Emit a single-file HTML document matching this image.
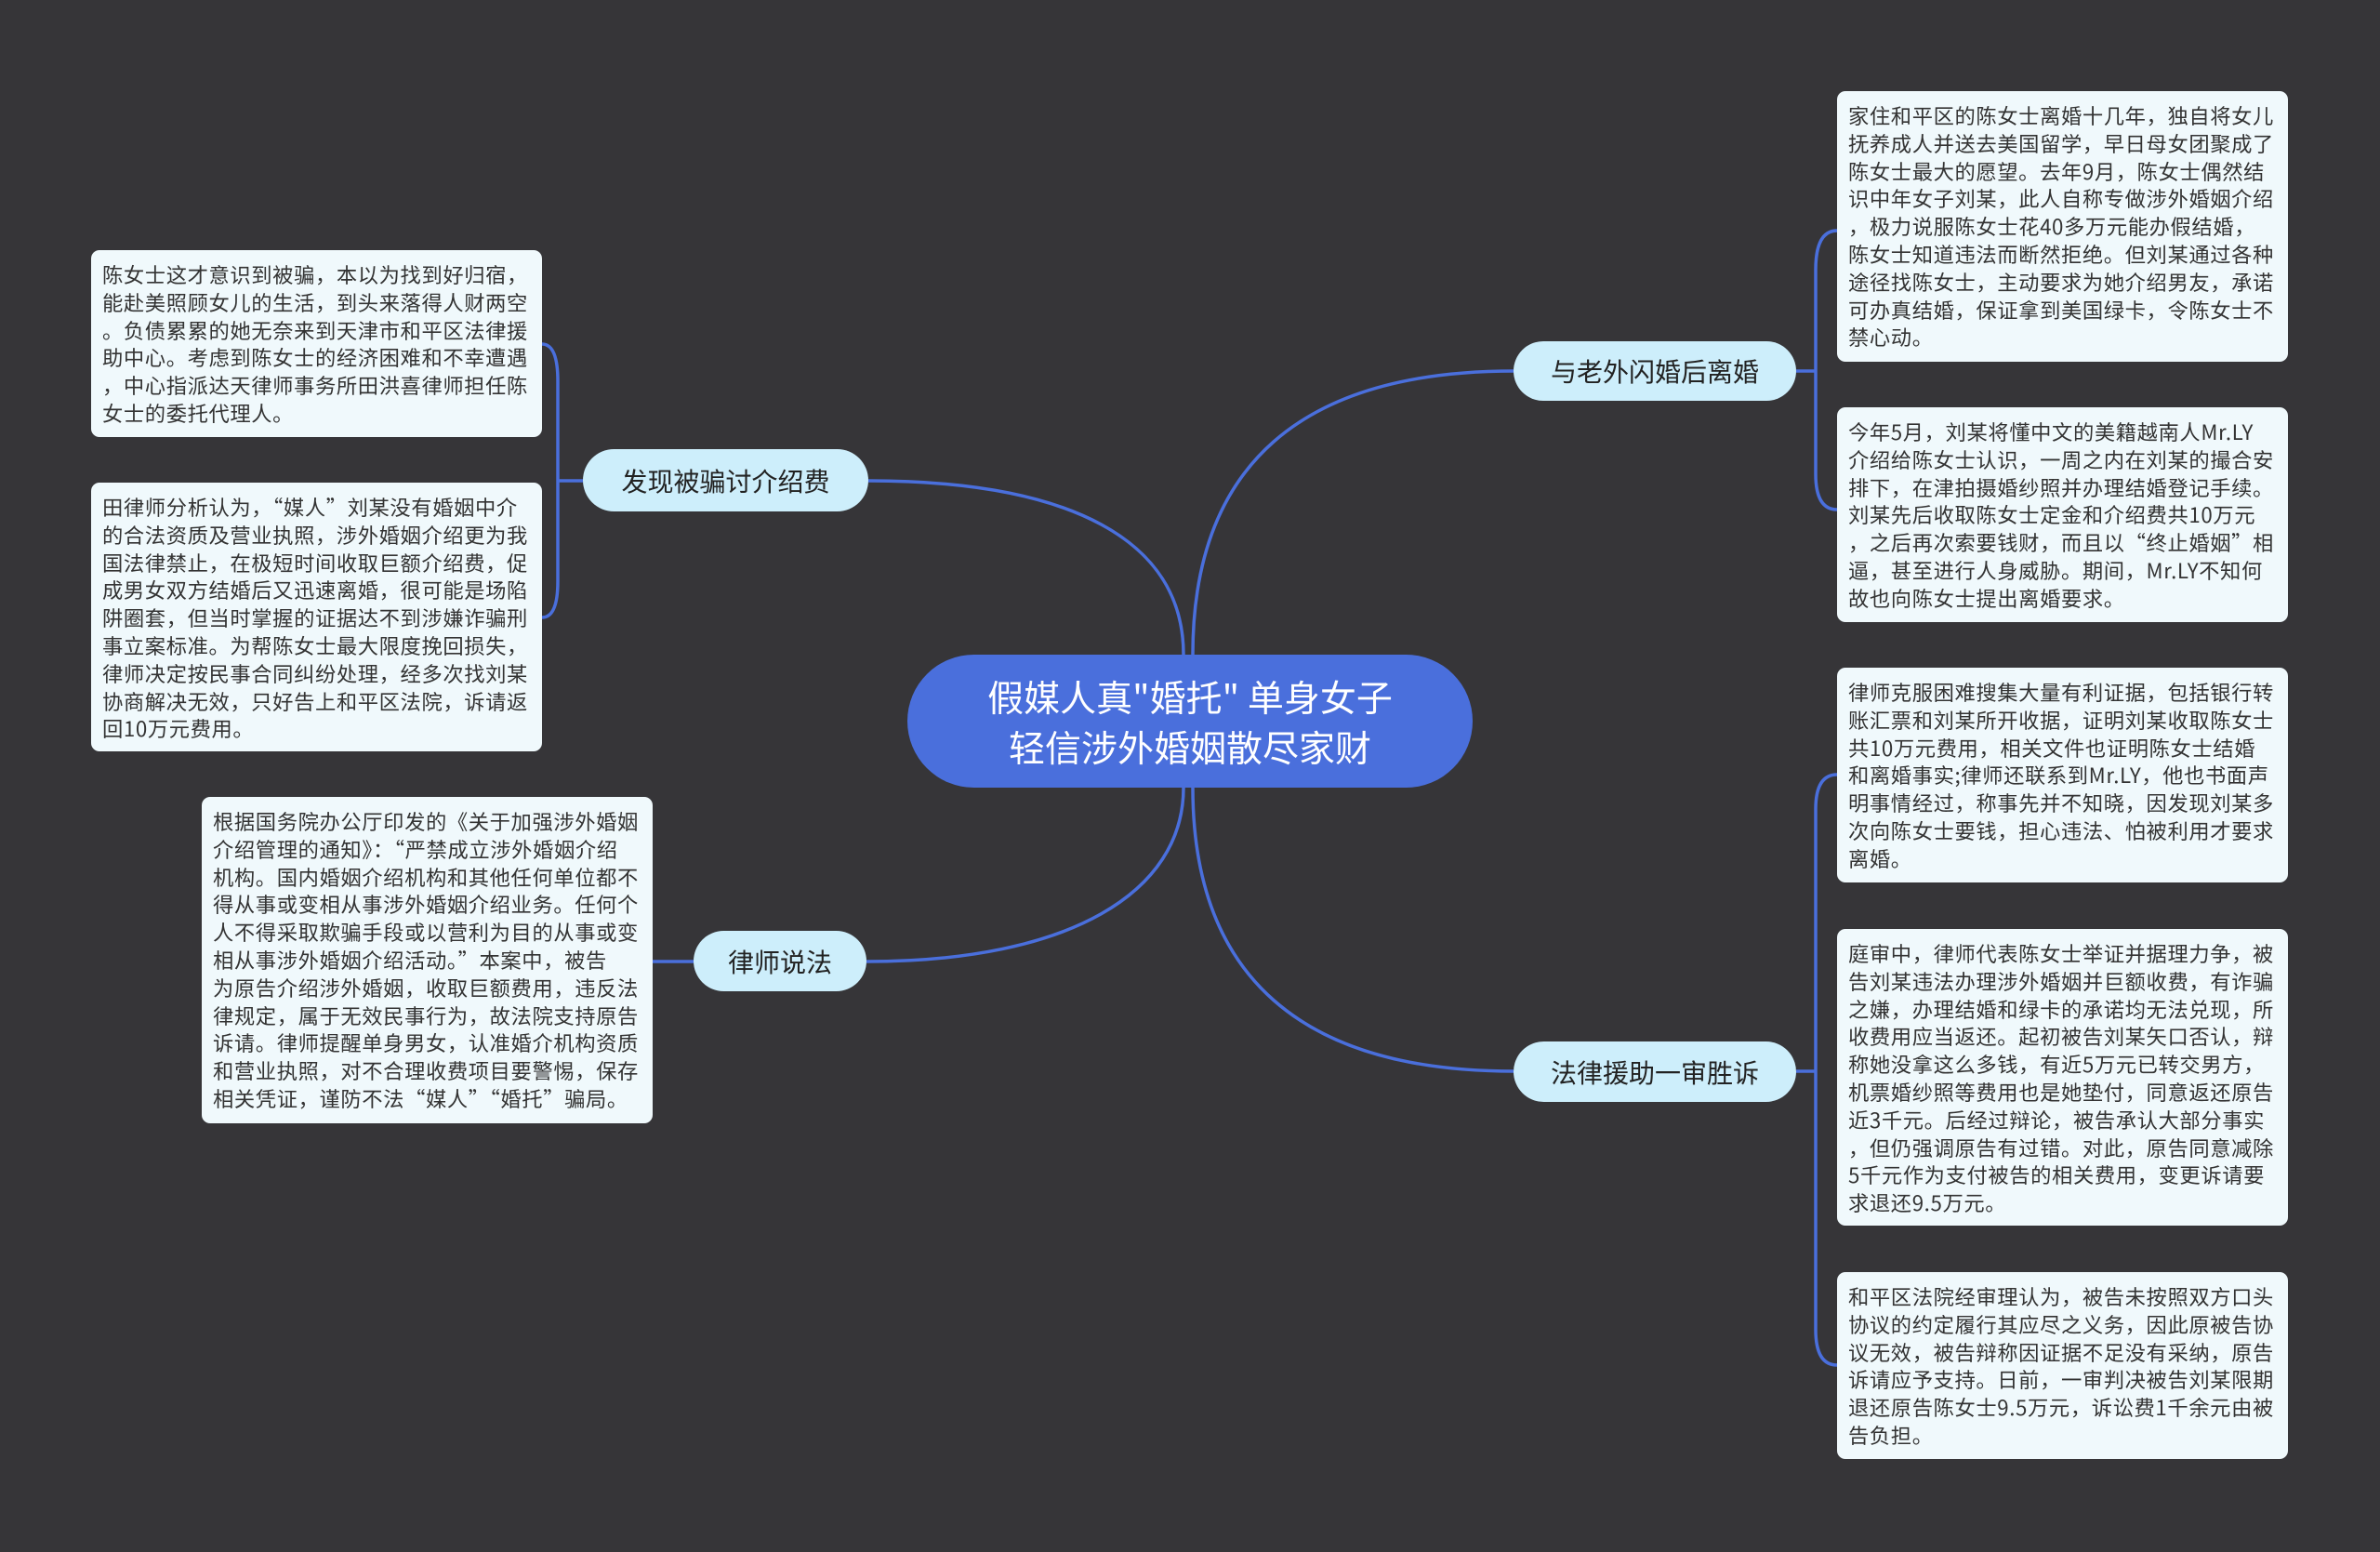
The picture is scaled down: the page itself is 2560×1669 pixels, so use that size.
<!DOCTYPE html>
<html><head><meta charset="utf-8"><style>
body{margin:0;width:2560px;height:1669px;background:#363538;position:relative;overflow:hidden;font-family:"Noto Sans CJK SC","Liberation Sans",sans-serif;}
.t{position:absolute;background:#f0f9fc;border-radius:9px;color:#333;font-size:22.3px;line-height:29.8px;padding:12px 0 0 12px;box-sizing:border-box;white-space:nowrap;letter-spacing:0.6px}
.n{position:absolute;background:#cdeefb;border-radius:40px;color:#222;font-size:28px;display:flex;align-items:center;justify-content:center;white-space:nowrap}
.c{position:absolute;left:976px;top:704px;width:608px;height:143px;background:#4a6fdc;border-radius:72px;color:#fff;font-size:39px;line-height:54px;text-align:center;display:flex;align-items:center;justify-content:center;white-space:nowrap}
</style></head><body>
<svg width="2560" height="1669" style="position:absolute;left:0;top:0" fill="none" stroke="#4a6fdc" stroke-width="3.5">
<path d="M1283 704 C1283 500 1400 399 1628 399"/>
<path d="M1273 704 C1273 580 1150 517 934 517"/>
<path d="M1273 847 C1273 960 1150 1034 932 1034"/>
<path d="M1283 847 C1283 1050 1400 1152 1628 1152"/>
<path d="M1932 399 H1953 M1976 248 Q1953 248 1953 290 V510 Q1953 548 1976 548"/>
<path d="M627 517 H600 M583 370 Q600 370 600 410 V625 Q600 664 583 664"/>
<path d="M746 1034 H702"/>
<path d="M1932 1152 H1953 M1976 833 Q1953 833 1953 870 V1430 Q1953 1468 1976 1468"/>
</svg>
<div class="c">假媒人真"婚托" 单身女子<br>轻信涉外婚姻散尽家财</div>
<div class="n" style="left:1628px;top:367px;width:304px;height:64px">与老外闪婚后离婚</div>
<div class="n" style="left:1628px;top:1120px;width:304px;height:65px">法律援助一审胜诉</div>
<div class="n" style="left:627px;top:483px;width:307px;height:67px">发现被骗讨介绍费</div>
<div class="n" style="left:746px;top:1001px;width:186px;height:65px">律师说法</div>
<div class="t" style="left:1976px;top:98px;width:485px;height:291px">家住和平区的陈女士离婚十几年，独自将女儿<br>抚养成人并送去美国留学，早日母女团聚成了<br>陈女士最大的愿望。去年9月，陈女士偶然结<br>识中年女子刘某，此人自称专做涉外婚姻介绍<br>，极力说服陈女士花40多万元能办假结婚，<br>陈女士知道违法而断然拒绝。但刘某通过各种<br>途径找陈女士，主动要求为她介绍男友，承诺<br>可办真结婚，保证拿到美国绿卡，令陈女士不<br>禁心动。</div>
<div class="t" style="left:1976px;top:438px;width:485px;height:231px">今年5月，刘某将懂中文的美籍越南人Mr.LY<br>介绍给陈女士认识，一周之内在刘某的撮合安<br>排下，在津拍摄婚纱照并办理结婚登记手续。<br>刘某先后收取陈女士定金和介绍费共10万元<br>，之后再次索要钱财，而且以“终止婚姻”相<br>逼，甚至进行人身威胁。期间，Mr.LY不知何<br>故也向陈女士提出离婚要求。</div>
<div class="t" style="left:1976px;top:718px;width:485px;height:231px">律师克服困难搜集大量有利证据，包括银行转<br>账汇票和刘某所开收据，证明刘某收取陈女士<br>共10万元费用，相关文件也证明陈女士结婚<br>和离婚事实;律师还联系到Mr.LY，他也书面声<br>明事情经过，称事先并不知晓，因发现刘某多<br>次向陈女士要钱，担心违法、怕被利用才要求<br>离婚。</div>
<div class="t" style="left:1976px;top:999px;width:485px;height:319px">庭审中，律师代表陈女士举证并据理力争，被<br>告刘某违法办理涉外婚姻并巨额收费，有诈骗<br>之嫌，办理结婚和绿卡的承诺均无法兑现，所<br>收费用应当返还。起初被告刘某矢口否认，辩<br>称她没拿这么多钱，有近5万元已转交男方，<br>机票婚纱照等费用也是她垫付，同意返还原告<br>近3千元。后经过辩论，被告承认大部分事实<br>，但仍强调原告有过错。对此，原告同意减除<br>5千元作为支付被告的相关费用，变更诉请要<br>求退还9.5万元。</div>
<div class="t" style="left:1976px;top:1368px;width:485px;height:201px">和平区法院经审理认为，被告未按照双方口头<br>协议的约定履行其应尽之义务，因此原被告协<br>议无效，被告辩称因证据不足没有采纳，原告<br>诉请应予支持。日前，一审判决被告刘某限期<br>退还原告陈女士9.5万元，诉讼费1千余元由被<br>告负担。</div>
<div class="t" style="left:98px;top:269px;width:485px;height:201px">陈女士这才意识到被骗，本以为找到好归宿，<br>能赴美照顾女儿的生活，到头来落得人财两空<br>。负债累累的她无奈来到天津市和平区法律援<br>助中心。考虑到陈女士的经济困难和不幸遭遇<br>，中心指派达天律师事务所田洪喜律师担任陈<br>女士的委托代理人。</div>
<div class="t" style="left:98px;top:519px;width:485px;height:289px">田律师分析认为，“媒人”刘某没有婚姻中介<br>的合法资质及营业执照，涉外婚姻介绍更为我<br>国法律禁止，在极短时间收取巨额介绍费，促<br>成男女双方结婚后又迅速离婚，很可能是场陷<br>阱圈套，但当时掌握的证据达不到涉嫌诈骗刑<br>事立案标准。为帮陈女士最大限度挽回损失，<br>律师决定按民事合同纠纷处理，经多次找刘某<br>协商解决无效，只好告上和平区法院，诉请返<br>回10万元费用。</div>
<div class="t" style="left:217px;top:857px;width:485px;height:351px">根据国务院办公厅印发的《关于加强涉外婚姻<br>介绍管理的通知》：“严禁成立涉外婚姻介绍<br>机构。国内婚姻介绍机构和其他任何单位都不<br>得从事或变相从事涉外婚姻介绍业务。任何个<br>人不得采取欺骗手段或以营利为目的从事或变<br>相从事涉外婚姻介绍活动。”本案中，被告<br>为原告介绍涉外婚姻，收取巨额费用，违反法<br>律规定，属于无效民事行为，故法院支持原告<br>诉请。律师提醒单身男女，认准婚介机构资质<br>和营业执照，对不合理收费项目要警惕，保存<br>相关凭证，谨防不法“媒人”“婚托”骗局。</div>
</body></html>
